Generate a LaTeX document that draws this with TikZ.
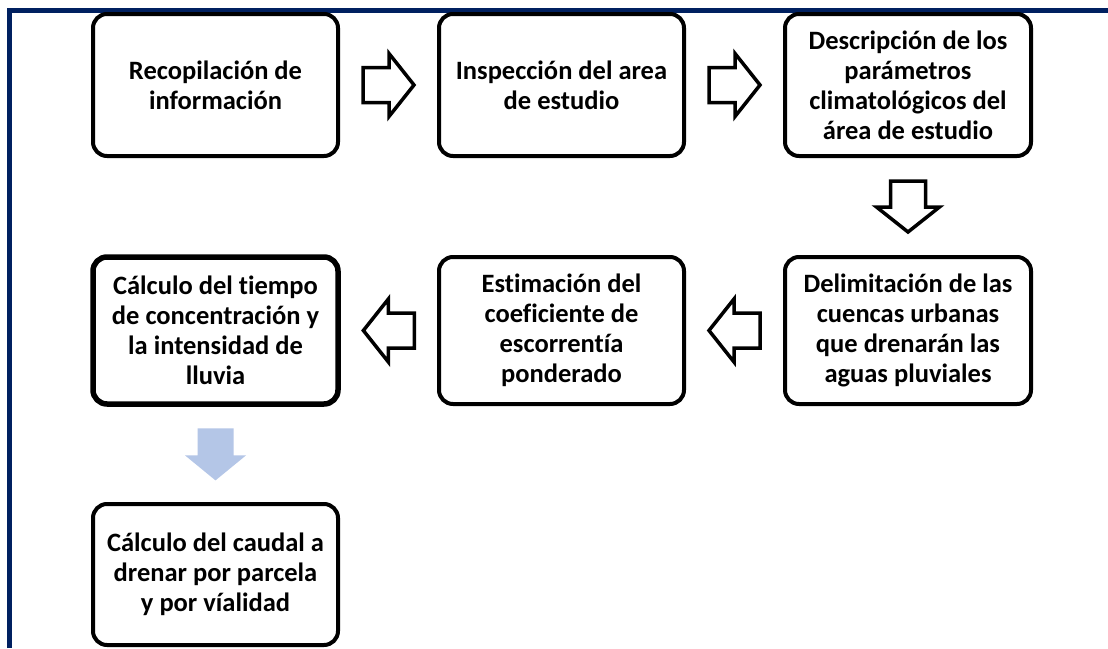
\documentclass[tikz,border=0pt]{standalone}
\usepackage{fontspec}
\setmainfont[Ligatures=NoCommon]{Carlito}
\usetikzlibrary{calc}
\definecolor{framecol}{RGB}{0,32,96}
\definecolor{lightarrow}{RGB}{180,198,231}
\begin{document}
\begin{tikzpicture}[x=1pt,y=-1pt,
  box/.style={draw, line width=4pt, rounded corners=14pt, fill=white, align=center, inner sep=0pt,
    font=\bfseries\fontsize{26.5}{30}\selectfont},
  barrow/.pic={\draw[line width=3.5pt, fill=white, line join=miter]
    (-25.5,-17.5) -- (0.5,-17.5) -- (0.5,-31.5) -- (25.5,0) -- (0.5,31.5) -- (0.5,17.5) -- (-25.5,17.5) -- cycle;},
  bluearrow/.pic={\fill[lightarrow]
    (-26,-18) -- (1,-18) -- (1,-30.5) -- (26,0) -- (1,30.5) -- (1,18) -- (-26,18) -- cycle;}]
\useasboundingbox (0,0) rectangle (1108,648);
\fill[white] (0,0) rectangle (1108,648);
% frame
\draw[framecol, line width=4.5pt] (9.5,648) -- (9.5,10.5) -- (1108,10.5);
% boxes
\node[box, minimum width=245pt, minimum height=142pt] (b1) at (215.5,85)
  {Recopilación de\\información};
\node[box, minimum width=245pt, minimum height=142pt] (b2) at (561.5,85)
  {Inspección del area\\de estudio};
\node[box, minimum width=246pt, minimum height=142pt] (b3) at (908,85)
  {Descripción de los\\parámetros\\climatológicos del\\área de estudio};
\node[box, minimum width=246pt, minimum height=147pt] (b4) at (908,330.5)
  {Delimitación de las\\cuencas urbanas\\que drenarán las\\aguas pluviales};
\node[box, minimum width=245pt, minimum height=147pt] (b5) at (561.5,330.5)
  {Estimación del\\coeficiente de\\escorrentía\\ponderado};
\node[box, line width=5.5pt, minimum width=245pt, minimum height=147pt] (b6) at (215.5,330.5)
  {Cálculo del tiempo\\de concentración y\\la intensidad de\\lluvia};
\node[box, minimum width=245pt, minimum height=141pt] (b7) at (215.5,574.5)
  {Cálculo del caudal a\\drenar por parcela\\y por víalidad};
% block arrows
\pic at ($(b1.east)!0.5!(b2.west)$) {barrow};
\pic at ($(b2.east)!0.5!(b3.west)$) {barrow};
\pic[rotate=-90] at ($(b3.south)!0.5!(b4.north)$) {barrow};
\pic[rotate=180] at ($(b4.west)!0.5!(b5.east)$) {barrow};
\pic[rotate=180] at ($(b5.west)!0.5!(b6.east)$) {barrow};
\pic[rotate=-90] at ($(b6.south)!0.5!(b7.north)$) {bluearrow};
\end{tikzpicture}
\end{document}
